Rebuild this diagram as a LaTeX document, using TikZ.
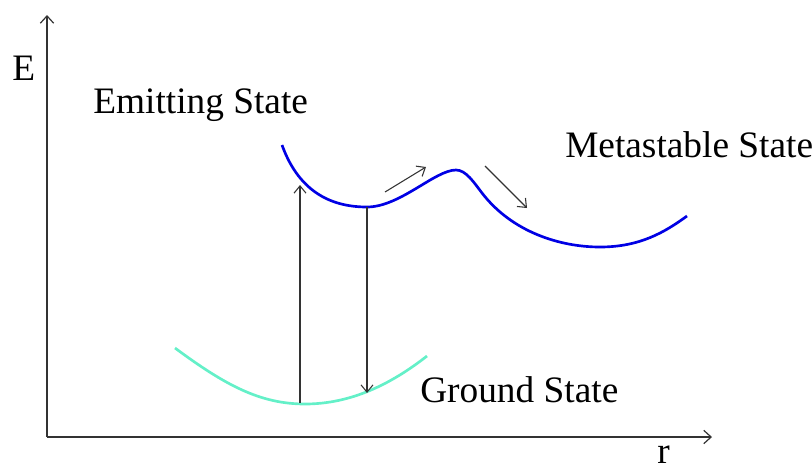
\documentclass[tikz,border=0pt]{standalone}
\usepackage{fontspec}
\setmainfont{Liberation Serif}
\usetikzlibrary{arrows.meta}
\definecolor{curveblue}{RGB}{0,0,228}
\definecolor{curvegreen}{RGB}{100,240,200}
\tikzset{
  axis/.style={draw=black!80, line width=0.9pt, -{Straight Barb[length=5.5pt,width=10pt]}},
  trans/.style={draw=black!80, line width=0.8pt, -{Straight Barb[length=5.5pt,width=9pt]}},
  lbl/.style={font=\fontsize{28pt}{30pt}\selectfont, inner sep=0pt, anchor=base west},
  bluecurve/.style={draw=curveblue, line width=2pt},
  greencurve/.style={draw=curvegreen, line width=2pt}
}
\begin{document}
\begin{tikzpicture}[x=0.75pt,y=-0.75pt]
\useasboundingbox (0,0) rectangle (812,469);
% axes
\coordinate (O) at (47,437);
\coordinate (Ytop) at (47,15);
\coordinate (Xend) at (712,437);
\draw[axis] (O) -- (Ytop);
\draw[axis] (O) -- (Xend);
\node[lbl] (E) at (12,80) {E};
\node[lbl] (r) at (657,463) {r};
% labels
\node[lbl] (emit) at (93,113) {Emitting State};
\node[lbl] (meta) at (565,157) {Metastable State};
\node[lbl] (ground) at (420,402) {Ground State};
% blue curve
\draw[bluecurve] (282,145) .. controls (300,195) and (335,207) .. (367,207)
  .. controls (400,207) and (435,170) .. (456,170)
  .. controls (466,170) and (474,182.6) .. (482,193)
  .. controls (512,232) and (560,247) .. (600,247)
  .. controls (640,247) and (665,232) .. (687,216);
% green curve
\draw[greencurve] (175,348) .. controls (225,385) and (260,404) .. (305,404)
  .. controls (350,404) and (390,385) .. (427,356);
% transitions
\coordinate (upA) at (300,403);
\coordinate (upB) at (300,185);
\coordinate (dnA) at (367,207);
\coordinate (dnB) at (367,393);
\draw[trans] (upA) -- (upB);
\draw[trans] (dnA) -- (dnB);
\coordinate (s1a) at (385,192);
\coordinate (s1b) at (426,167);
\coordinate (s2a) at (485,166);
\coordinate (s2b) at (527,208);
\draw[trans] (s1a) -- (s1b);
\draw[trans] (s2a) -- (s2b);
\end{tikzpicture}
\end{document}
